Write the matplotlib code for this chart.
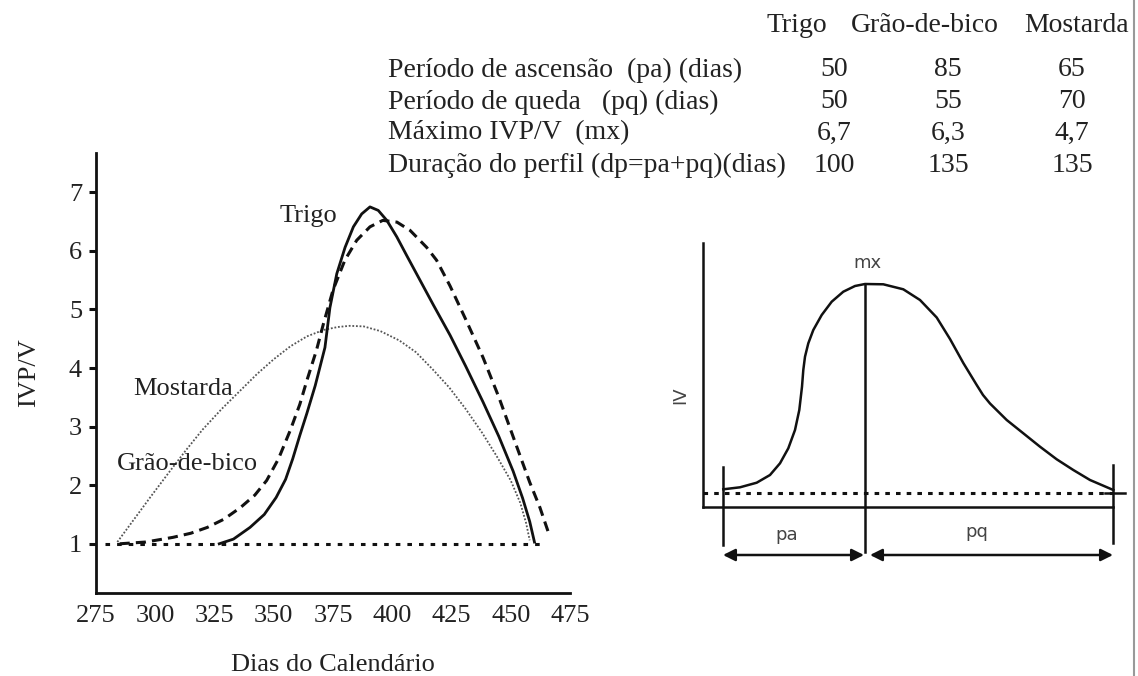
import numpy as np
import matplotlib
matplotlib.use("Agg")
from matplotlib import pyplot as plt
from matplotlib.lines import Line2D

##-- dados
trigo_x = [327, 333, 340, 346, 351, 355, 358, 361, 364, 367.5, 371.6, 373.7, 376.6, 380.1, 383.6, 387.1,
           390.6, 394.1, 397.7, 401.9, 406.1, 411.7, 417.3, 424.4, 431, 438.3, 445, 451, 455, 458, 460]
trigo_y = [1.0, 1.08, 1.28, 1.5, 1.79, 2.1, 2.45, 2.85, 3.23, 3.7, 4.35, 5.03, 5.61, 6.06, 6.41, 6.63,
           6.75, 6.69, 6.52, 6.24, 5.92, 5.5, 5.08, 4.56, 4.03, 3.42, 2.83, 2.24, 1.78, 1.38, 1.03]

grao_x = [285, 296, 307.5, 315, 322, 329, 336, 342, 347, 352, 357, 361, 364, 368, 371, 375, 380, 385,
          390.6, 396, 402, 407.5, 414.5, 418.7, 424.4, 431, 438.3, 445, 452.6, 458, 462.3, 466]
grao_y = [1.0, 1.03, 1.11, 1.18, 1.28, 1.42, 1.62, 1.83, 2.08, 2.45, 2.94, 3.38, 3.79, 4.3, 4.76, 5.33,
          5.84, 6.18, 6.41, 6.52, 6.49, 6.35, 6.06, 5.84, 5.4, 4.83, 4.18, 3.5, 2.65, 2.05, 1.62, 1.18]

mostarda_x = [284, 290, 298, 306, 313, 320, 328, 336, 343, 350, 357, 364, 371, 377, 382, 388, 395,
              403, 410, 417, 424, 431, 438, 444, 450, 454, 456.5, 458]
mostarda_y = [1.03, 1.36, 1.8, 2.23, 2.6, 2.95, 3.3, 3.62, 3.9, 4.15, 4.37, 4.54, 4.65, 4.7, 4.72, 4.71,
              4.63, 4.47, 4.27, 3.98, 3.67, 3.3, 2.89, 2.5, 2.08, 1.7, 1.35, 1.06]

base_x = [279, 465]
base_y = [1, 1]

xticks = [275, 300, 325, 350, 375, 400, 425, 450, 475]
yticks = [1, 2, 3, 4, 5, 6, 7]

##-- tabela
colunas = ["Trigo", "Grão-de-bico", "Mostarda"]
linhas = ["Período de ascensão  (pa) (dias)",
          "Período de queda   (pq) (dias)",
          "Máximo IVP/V  (mx)",
          "Duração do perfil (dp=pa+pq)(dias)"]
trigo_vals = ["50", "50", "6,7", "100"]
grao_vals = ["85", "55", "6,3", "135"]
mostarda_vals = ["65", "70", "4,7", "135"]

##-- esquema do perfil (unidades arbitrarias)
perfil_x = [20.3, 37, 53.7, 67, 77, 85.3, 92, 96.3, 99, 100.3, 102, 105.3, 110.3, 118.7, 128.7, 140.3,
            152, 162, 180.3, 200.3, 217, 233.7, 247, 260.3, 273.7, 280, 287, 303.7, 320.3, 337, 353.7,
            370.3, 387, 410.3]
perfil_y = [17.7, 19.7, 24.3, 32, 43.7, 58.7, 77, 97, 120.3, 137, 150.3, 163.7, 177, 192, 205.3, 215.3,
            221, 223, 222.7, 217.7, 207, 189.5, 168, 144, 122, 112, 103.5, 87, 73.7, 60.3, 47.7,
            37, 27, 17]
perfil_inicio = 20
perfil_pico = 162
perfil_fim = 410
perfil_base = 14
perfil_mx = 223

W, H = 1138, 676
fig = plt.figure(figsize=(W / 100, H / 100), dpi=100)
serif = "Liberation Serif"
fs = 19
fs_tab = 20

# grafico principal
ax = fig.add_axes([96 / W, 1 - 593 / H, 474 / W, 440 / H])
ax.plot(base_x, base_y, color="#111", lw=2.2, linestyle=(0, (1.5, 2.3)))
ax.plot(mostarda_x, mostarda_y, color="#555", lw=1.3, linestyle=(0, (1, 1)))
ax.plot(grao_x, grao_y, color="#111", lw=2.2, linestyle=(0, (3.3, 2.0)))
ax.plot(trigo_x, trigo_y, color="#111", lw=2.0)
ax.set_xlim(275, 475)
ax.set_ylim(0.16, 7.67)
ax.set_xticks(xticks)
ax.set_yticks(yticks)
ax.set_xticklabels([str(t) for t in xticks], fontfamily=serif, fontsize=fs, color="#222")
ax.set_yticklabels([str(t) for t in yticks], fontfamily=serif, fontsize=fs, color="#222")
ax.tick_params(axis="x", length=0, pad=9)
ax.tick_params(axis="y", length=5, width=2.2, pad=5, color="#111")
for s in ["top", "right"]:
    ax.spines[s].set_visible(False)
for s in ["left", "bottom"]:
    ax.spines[s].set_linewidth(2.0)
    ax.spines[s].set_color("#111")
ax.set_xlabel("Dias do Calendário", fontfamily=serif, fontsize=fs, color="#222", labelpad=19)
ax.set_ylabel("IVP/V", fontfamily=serif, fontsize=fs, color="#222", labelpad=21)
ax.text(376.7, 6.6, "Trigo", fontfamily=serif, fontsize=fs, color="#222", ha="right", va="center")
ax.text(290.6, 3.64, "Mostarda", fontfamily=serif, fontsize=fs, color="#222", ha="left", va="center")
ax.text(283.9, 2.37, "Grão-de-bico", fontfamily=serif, fontsize=fs, color="#222", ha="left", va="center")

# tabela no topo
col_x = [797, 925, 1077]
val_x = [834, 948, 1072]
for j in range(len(colunas)):
    fig.text(col_x[j] / W, 1 - 25 / H, colunas[j], fontfamily=serif, fontsize=fs_tab,
             ha="center", va="center", color="#222")
row_y = [70, 102, 133, 165]
for i in range(len(linhas)):
    yy = 1 - row_y[i] / H
    fig.text(388 / W, yy, linhas[i], fontfamily=serif, fontsize=fs_tab, ha="left", va="center", color="#222")
    fig.text(val_x[0] / W, yy, trigo_vals[i], fontfamily=serif, fontsize=fs_tab, ha="center", va="center", color="#222")
    fig.text(val_x[1] / W, yy, grao_vals[i], fontfamily=serif, fontsize=fs_tab, ha="center", va="center", color="#222")
    fig.text(val_x[2] / W, yy, mostarda_vals[i], fontfamily=serif, fontsize=fs_tab, ha="center", va="center", color="#222")

# esquema a direita
ax2 = fig.add_axes([663 / W, 1 - 575 / H, 470 / W, 340 / H])
ax2.set_xlim(-40, 430)
ax2.set_ylim(-68, 272)
ax2.axis("off")
k = "#111"
ax2.plot([0, 0], [0, 264], color=k, lw=1.8)
ax2.plot([0, perfil_fim], [0, 0], color=k, lw=1.8)
ax2.plot([0, perfil_fim], [perfil_base, perfil_base], color=k, lw=2.2, linestyle=(0, (1.5, 2.0)))
ax2.plot(perfil_x, perfil_y, color=k, lw=1.8)
ax2.plot([perfil_inicio, perfil_inicio], [-38, 40], color=k, lw=1.8)
ax2.plot([perfil_fim, perfil_fim], [-36, 42], color=k, lw=1.8)
ax2.plot([perfil_fim - 8, perfil_fim + 12], [perfil_base, perfil_base], color=k, lw=1.8)
ax2.plot([perfil_pico, perfil_pico], [-45, perfil_mx], color=k, lw=1.8)
arrow = dict(arrowstyle="<|-|>", color=k, lw=1.8, mutation_scale=18, shrinkA=0, shrinkB=0)
ax2.annotate("", xy=(perfil_pico - 1, -48), xytext=(perfil_inicio, -48), arrowprops=arrow)
ax2.annotate("", xy=(perfil_fim, -48), xytext=(perfil_pico + 5, -48), arrowprops=arrow)
sans = "DejaVu Sans"
ax2.text(perfil_pico + 2, 244, "mx", fontfamily=sans, fontsize=13, color="#444", ha="center", va="center")
ax2.text(84, -28, "pa", fontfamily=sans, fontsize=13, color="#444", ha="center", va="center")
ax2.text(274, -25, "pq", fontfamily=sans, fontsize=13, color="#444", ha="center", va="center")
ax2.text(-23, 112, "IV", fontfamily=sans, fontsize=13, color="#444", ha="center", va="center", rotation=90)

# borda cinza a direita
fig.add_artist(Line2D([1134 / W, 1134 / W], [0, 1], color="#999", lw=1.5))

fig.savefig("out.png", dpi=100)
